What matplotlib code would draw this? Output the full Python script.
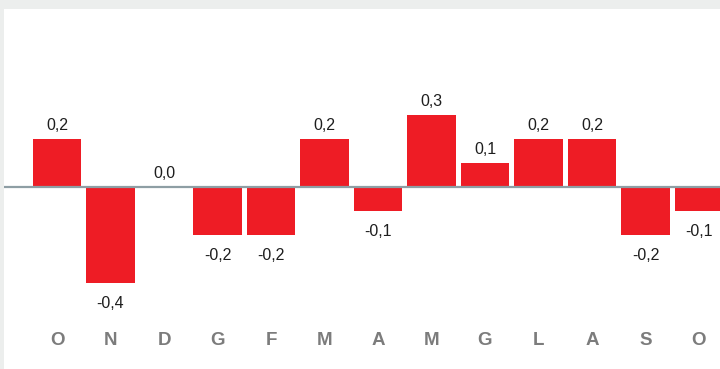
import matplotlib
matplotlib.use("Agg")
import matplotlib.pyplot as plt

# monthly values (Oct -> Oct)
months = ["O", "N", "D", "G", "F", "M", "A", "M", "G", "L", "A", "S", "O"]
values = [0.2, -0.4, 0.0, -0.2, -0.2, 0.2, -0.1, 0.3, 0.1, 0.2, 0.2, -0.2, -0.1]
labels = ["0,2", "-0,4", "0,0", "-0,2", "-0,2", "0,2", "-0,1", "0,3", "0,1", "0,2", "0,2", "-0,2", "-0,1"]

W, H = 720, 369
fig = plt.figure(figsize=(W / 100, H / 100), dpi=100, facecolor="#eceeed")
ax = fig.add_axes([4 / W, 0, 716 / W, 360 / H])
ax.set_facecolor("white")
for s in ax.spines.values():
    s.set_visible(False)
ax.set_xticks([])
ax.set_yticks([])

x = list(range(len(months)))
ax.bar(x, values, width=0.91, color="#ee1c25", zorder=2)
ax.axhline(0, color="#8e9ea4", lw=1.6, zorder=3)

lab_font = ["Liberation Sans Narrow", "Liberation Sans", "DejaVu Sans"]
for xi, v, t in zip(x, values, labels):
    if v >= 0:
        ax.annotate(t, (xi, v), xytext=(0, 4), textcoords="offset points",
                    ha="center", va="bottom", fontsize=11.5, color="#1e1e1e", family=lab_font)
    else:
        ax.annotate(t, (xi, v), xytext=(0, -9), textcoords="offset points",
                    ha="center", va="top", fontsize=11.5, color="#1e1e1e", family=lab_font)

for xi, m in zip(x, months):
    ax.text(xi, -0.641, m, ha="center", va="center", fontsize=13.5, fontweight="bold",
            color="#7c7c7c", family=["Liberation Sans", "DejaVu Sans"])

ax.set_xlim(-0.991, 12.393)
ax.set_ylim(-0.7583, 0.7417)

fig.savefig("out.png", dpi=100, facecolor=fig.get_facecolor())
